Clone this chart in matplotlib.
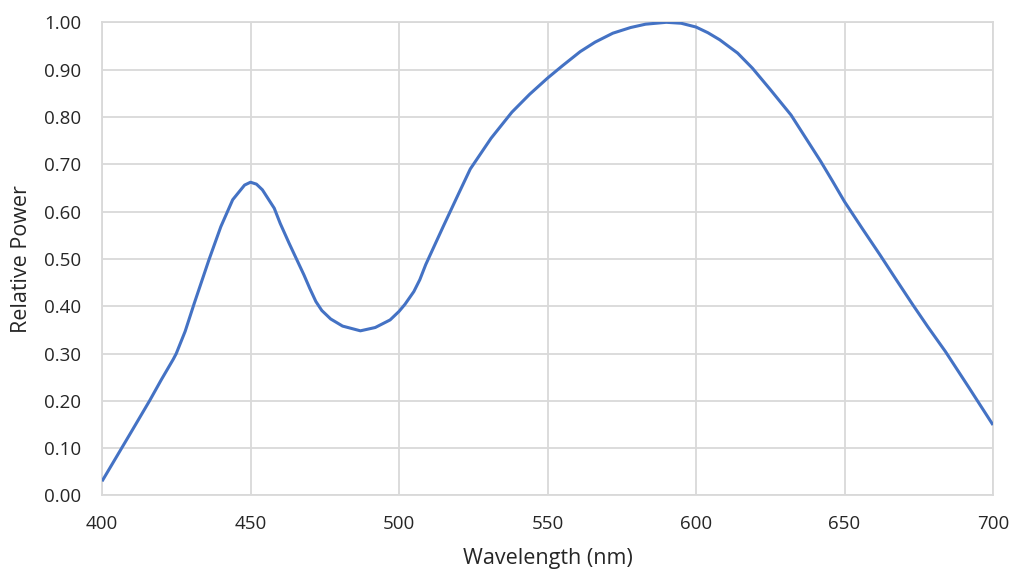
import matplotlib
matplotlib.use('Agg')
import matplotlib.pyplot as plt
from matplotlib.ticker import FormatStrFormatter

# spectrum (nm, relative power)
wavelength = [400, 405, 410, 416, 420, 424, 425, 428, 431, 436, 440, 444, 448,
              450, 452, 454, 458, 460, 463, 468, 470, 472, 474, 477, 481, 487,
              492, 497, 500, 502, 505, 507, 509, 515, 520, 524, 531, 538, 544,
              550, 555, 561, 566, 572, 578, 583, 590, 595, 600, 604, 608, 614,
              619, 625, 632, 637, 642, 646, 650, 656, 662, 667, 673, 678, 684,
              692, 700]
power = [0.030, 0.083, 0.136, 0.200, 0.245, 0.288, 0.300, 0.347, 0.405, 0.498,
         0.568, 0.625, 0.656, 0.662, 0.658, 0.646, 0.607, 0.575, 0.533, 0.466,
         0.437, 0.410, 0.391, 0.373, 0.358, 0.348, 0.355, 0.371, 0.389, 0.404,
         0.431, 0.456, 0.488, 0.570, 0.637, 0.690, 0.755, 0.810, 0.848, 0.882,
         0.908, 0.938, 0.958, 0.977, 0.989, 0.996, 1.000, 0.998, 0.990, 0.978,
         0.963, 0.935, 0.903, 0.858, 0.804, 0.755, 0.706, 0.664, 0.621, 0.564,
         0.508, 0.460, 0.403, 0.357, 0.304, 0.227, 0.149]

x_ticks = [400, 450, 500, 550, 600, 650, 700]
y_ticks = [0.0, 0.1, 0.2, 0.3, 0.4, 0.5, 0.6, 0.7, 0.8, 0.9, 1.0]

plt.rcParams['font.family'] = ['Open Sans', 'DejaVu Sans']

fig = plt.figure(figsize=(10.11, 5.69), dpi=100)
ax = fig.add_axes([0.1009, 0.1292, 0.8813, 0.8316])

grid_col = '#d9d9d9'
text_col = '#262626'
ax.plot(wavelength, power, color='#4472C4', lw=2.2, solid_joinstyle='round',
        solid_capstyle='butt', zorder=3)

ax.set_xlim(400, 700)
ax.set_ylim(0, 1.0)
ax.set_xticks(x_ticks)
ax.set_yticks(y_ticks)
ax.yaxis.set_major_formatter(FormatStrFormatter('%.2f'))
ax.grid(True, color=grid_col, lw=1.3)
ax.set_axisbelow(True)
for s in ax.spines.values():
    s.set_color(grid_col)
    s.set_linewidth(1.3)

ax.tick_params(axis='both', length=0, labelsize=13.5, colors=text_col)
ax.tick_params(axis='y', pad=15)
ax.tick_params(axis='x', pad=14)

ax.set_xlabel('Wavelength (nm)', fontsize=15.5, color=text_col, labelpad=11)
ax.set_ylabel('Relative Power', fontsize=15.5, color=text_col, labelpad=9)

fig.savefig('out.png', dpi=100, facecolor='white')
